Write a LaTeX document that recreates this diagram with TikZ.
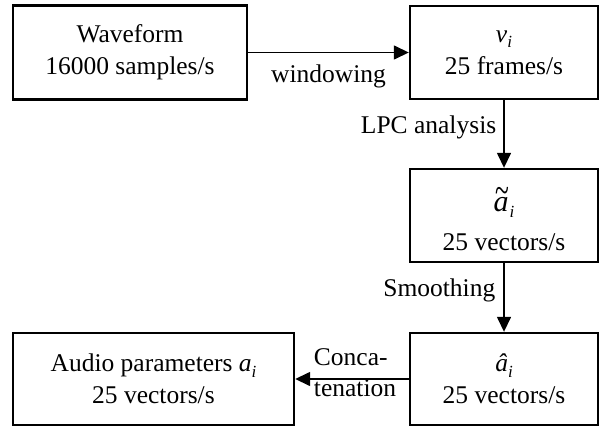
\documentclass[tikz,border=0pt]{standalone}
\usepackage{graphicx}
\usepackage{fontspec}
\setmainfont{Liberation Serif}
\usetikzlibrary{arrows.meta}
\newcommand\lowi{\raisebox{-0.22em}{\fontsize{17}{17}\selectfont\itshape i}}
\newcommand\tildea{{\fontsize{30}{30}\selectfont\itshape\makebox[0pt][l]{\hspace{2pt}\raisebox{8.5pt}{\upshape\scalebox{0.85}[1.3]{\char"7E}}}a}}
\begin{document}
\begin{tikzpicture}[x=1pt,y=-1pt,
  box/.style={draw,line width=2.4pt,align=center,inner sep=0pt,font=\fontsize{25.5}{32}\selectfont},
  conn/.style={line width=1.5pt,-{Triangle[length=15pt,width=14pt]}},
  lbl/.style={inner sep=0pt,font=\fontsize{25.5}{31}\selectfont}]
\useasboundingbox (0,0) rectangle (601,428);
\node[box,minimum width=234pt,minimum height=94pt] (wave) at (130,52.5) {Waveform\\16000 samples/s};
\node[box,minimum width=188pt,minimum height=93pt] (v) at (504,52.5) {\textit{v}\lowi\\25 frames/s};
\node[box,minimum width=188pt,minimum height=93pt] (at) at (504,215.5) {\rule{0pt}{32pt}\tildea\hspace{1pt}\lowi\\[7pt]25 vectors/s};
\node[box,minimum width=188pt,minimum height=92pt] (ah) at (504,379) {\textit{â}\lowi\\25 vectors/s};
\node[box,minimum width=281pt,minimum height=92pt] (audio) at (153.5,379) {Audio parameters \textit{a}\lowi\\25 vectors/s};
\draw[conn] (wave.east) -- node[lbl,below=12pt]{windowing} (v.west);
\draw[conn] (v.south) -- node[lbl,pos=0.4,left=7pt]{LPC analysis} (at.north);
\draw[conn] (at.south) -- node[lbl,pos=0.39,left=8pt]{Smoothing} (ah.north);
\draw[conn] (ah.west) -- node[lbl,align=left,xshift=3pt,yshift=6pt]{Conca-\\tenation} (audio.east);
\end{tikzpicture}
\end{document}
